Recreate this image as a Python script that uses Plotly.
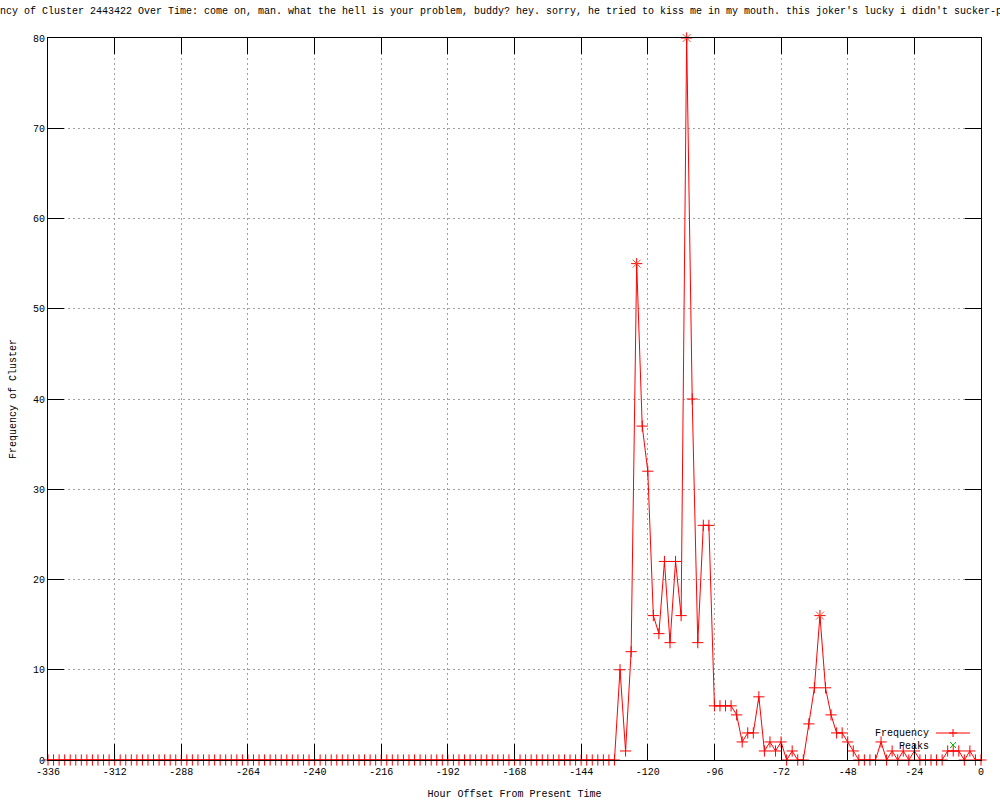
import plotly.graph_objects as go

# ---- data ----
hours = list(range(-336, 2, 2))  # one sample every 2 hours, -336 .. 0

frequency = [
    # -336 .. -132 (all zero)
    0, 0, 0, 0, 0, 0, 0, 0, 0, 0, 0, 0, 0, 0, 0, 0, 0, 0, 0, 0,
    0, 0, 0, 0, 0, 0, 0, 0, 0, 0, 0, 0, 0, 0, 0, 0, 0, 0, 0, 0,
    0, 0, 0, 0, 0, 0, 0, 0, 0, 0, 0, 0, 0, 0, 0, 0, 0, 0, 0, 0,
    0, 0, 0, 0, 0, 0, 0, 0, 0, 0, 0, 0, 0, 0, 0, 0, 0, 0, 0, 0,
    0, 0, 0, 0, 0, 0, 0, 0, 0, 0, 0, 0, 0, 0, 0, 0, 0, 0, 0, 0,
    0, 0, 0,
    # -130 .. -96
    10, 1, 12, 55, 37, 32, 16, 14, 22, 13, 22, 16, 80, 40, 13, 26, 26, 6,
    # -94 .. -62
    6, 6, 6, 5, 2, 3, 3, 7, 1, 2, 1, 2, 0, 1, 0, 0, 4,
    # -60 .. -30
    8, 16, 8, 5, 3, 3, 2, 1, 0, 0, 0, 0, 2, 0, 1, 0,
    # -28 .. 0
    1, 0, 1, 0, 0, 0, 0, 0, 1, 1, 1, 0, 1, 0, 0,
]

peak_hours = [-124, -106, -58]
peak_values = [55, 80, 16]

x_ticks = [-336, -312, -288, -264, -240, -216, -192, -168, -144, -120, -96, -72, -48, -24, 0]
y_ticks = [0, 10, 20, 30, 40, 50, 60, 70, 80]

title_text = ("Frequency of Cluster 2443422 Over Time: come on, man. what the hell is your "
              "problem, buddy? hey. sorry, he tried to kiss me in my mouth. this joker's "
              "lucky i didn't sucker-punch him.")

FONT = "Liberation Mono, DejaVu Sans Mono, monospace"
RED = "#ff0000"
GREEN = "#00c000"

fig = go.Figure()
fig.add_trace(go.Scatter(
    x=hours, y=frequency, name="Frequency", mode="lines+markers",
    line=dict(color=RED, width=1),
    marker=dict(symbol="cross-thin-open", size=8, line=dict(color=RED, width=1)),
    cliponaxis=False,
))
fig.add_trace(go.Scatter(
    x=peak_hours, y=peak_values, name="Peaks", mode="markers",
    marker=dict(symbol="x-thin-open", size=8, line=dict(color=GREEN, width=1)),
    cliponaxis=False,
))

L, R, T, B = 48, 19, 38, 40
W, H = 1000, 800
pw, ph = W - L - R, H - T - B


def px(xp):
    return (xp - L) / pw


def py(yp):
    return (H - B - yp) / ph


axis_common = dict(
    showline=True, linecolor="black", linewidth=1, mirror="ticks",
    ticks="inside", ticklen=16, tickwidth=1, tickcolor="black",
    showgrid=True, gridcolor="#a0a0a0", gridwidth=1, griddash="2px,3px",
    zeroline=False, tickfont=dict(family=FONT, size=10, color="black"),
)

fig.update_xaxes(range=[-336, 0], tickvals=x_ticks, ticktext=[str(v) for v in x_ticks],
                 ticklabelstandoff=2,
                 title=dict(text="Hour Offset From Present Time", standoff=13,
                            font=dict(family=FONT, size=10, color="black")),
                 **axis_common)
fig.update_yaxes(range=[0, 80], tickvals=y_ticks, ticktext=[str(v) for v in y_ticks],
                 title=dict(text="Frequency of Cluster", standoff=14,
                            font=dict(family=FONT, size=10, color="black")),
                 **axis_common)

# legend (gnuplot style: text on the left, sample on the right)
shapes = [
    dict(type="line", xref="paper", yref="paper", x0=px(936), x1=px(970), y0=py(733), y1=py(733),
         line=dict(color=RED, width=1)),
    dict(type="line", xref="paper", yref="paper", x0=px(949), x1=px(957), y0=py(733), y1=py(733),
         line=dict(color=RED, width=1)),
    dict(type="line", xref="paper", yref="paper", x0=px(953), x1=px(953), y0=py(729), y1=py(737),
         line=dict(color=RED, width=1)),
    dict(type="line", xref="paper", yref="paper", x0=px(950), x1=px(956), y0=py(742), y1=py(748),
         line=dict(color=GREEN, width=1)),
    dict(type="line", xref="paper", yref="paper", x0=px(950), x1=px(956), y0=py(748), y1=py(742),
         line=dict(color=GREEN, width=1)),
]
annotations = [
    dict(text="Frequency", xref="paper", yref="paper", x=px(931), y=py(733), xanchor="right",
         yanchor="middle", showarrow=False, font=dict(family=FONT, size=10, color="black")),
    dict(text="Peaks", xref="paper", yref="paper", x=px(931), y=py(746), xanchor="right",
         yanchor="middle", showarrow=False, font=dict(family=FONT, size=10, color="black")),
]

fig.update_layout(
    width=W, height=H,
    margin=dict(l=L, r=R, t=T, b=B, autoexpand=False),
    paper_bgcolor="white", plot_bgcolor="white",
    showlegend=False,
    title=dict(text=title_text, x=0.51, xref="container", xanchor="center",
               y=1 - 10.5 / H, yref="container", yanchor="middle",
               font=dict(family=FONT, size=10, color="black")),
    shapes=shapes, annotations=annotations,
)

fig.write_html("out.html",
               config={"displayModeBar": False},
               post_script="document.body.style.margin='0';document.body.style.overflow='hidden';")
